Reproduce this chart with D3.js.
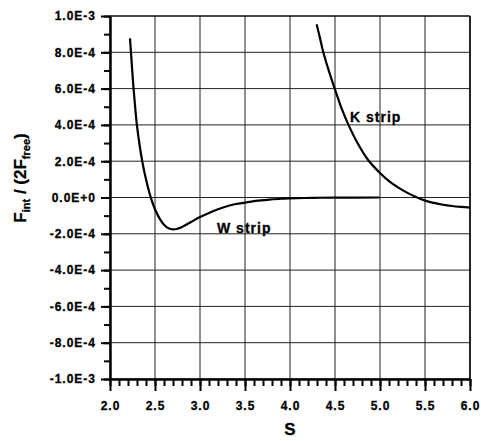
<!DOCTYPE html>
<html>
<head>
<meta charset="utf-8">
<script src="https://cdn.jsdelivr.net/npm/d3@7"></script>
<style>
body{margin:0;background:#fff;}
svg text{font-family:Arial,"Liberation Sans",Helvetica,sans-serif !important;font-weight:700 !important;fill:#000 !important;stroke:#000;stroke-width:0.3px;}
</style>
</head>
<body>
<svg id="chart" width="481" height="441"></svg>
<script>
// data (y in units of 1e-4)
var wS = [2.222,2.24,2.26,2.28,2.3,2.33,2.36,2.4,2.45,2.5,2.55,2.6,2.65,2.7,2.75,2.8,2.9,3.0,3.1,3.2,3.3,3.4,3.5,3.6,3.75,3.9,4.0,4.25,4.5,5.0];
var wF = [8.77,7.5,6.1,4.95,3.95,2.85,1.95,1.0,0.05,-0.65,-1.15,-1.5,-1.7,-1.76,-1.72,-1.62,-1.35,-1.08,-0.85,-0.65,-0.48,-0.36,-0.28,-0.2,-0.13,-0.07,-0.05,-0.02,-0.01,0];
var kS = [4.296,4.33,4.37,4.43,4.5,4.57,4.65,4.75,4.87,5.0,5.1,5.2,5.3,5.4,5.5,5.6,5.7,5.8,5.9,6.0];
var kF = [9.55,8.85,8.0,7.0,5.95,4.95,4.0,3.0,2.05,1.35,0.9,0.56,0.27,0.03,-0.17,-0.3,-0.4,-0.47,-0.52,-0.56];
var xTicks = [2.0,2.5,3.0,3.5,4.0,4.5,5.0,5.5,6.0];
var xTickLabels = ["2.0","2.5","3.0","3.5","4.0","4.5","5.0","5.5","6.0"];
var yTicks = [10,8,6,4,2,0,-2,-4,-6,-8,-10];
var yTickLabels = ["1.0E-3","8.0E-4","6.0E-4","4.0E-4","2.0E-4","0.0E+0","-2.0E-4","-4.0E-4","-6.0E-4","-8.0E-4","-1.0E-3"];

var L=110, R=470, T=16, B=379;
var svg = d3.select("#chart");
var x = d3.scaleLinear().domain([2,6]).range([L,R]);
var y = d3.scaleLinear().domain([-10,10]).range([B,T]);

// grid
svg.append("g").selectAll("line").data(xTicks).enter().append("line")
	.attr("x1",function(d){return x(d);}).attr("x2",function(d){return x(d);})
	.attr("y1",T).attr("y2",B).attr("stroke","#222").attr("stroke-width",1);
svg.append("g").selectAll("line").data(yTicks).enter().append("line")
	.attr("x1",L).attr("x2",R)
	.attr("y1",function(d){return y(d);}).attr("y2",function(d){return y(d);})
	.attr("stroke","#222").attr("stroke-width",1);

// frame top/right
svg.append("line").attr("x1",L).attr("x2",R).attr("y1",T).attr("y2",T).attr("stroke","#000").attr("stroke-width",1.2);
svg.append("line").attr("x1",R).attr("x2",R).attr("y1",T).attr("y2",B).attr("stroke","#000").attr("stroke-width",1.5);

// minor ticks
var xMinor = d3.range(20,61).map(function(v){return v/10;});
var yMinor = d3.range(-10,11);
svg.append("g").attr("transform","translate(0,"+B+")")
	.call(d3.axisBottom(x).tickValues(xMinor).tickSize(7).tickFormat("").tickSizeOuter(0))
	.call(function(g){g.select(".domain").remove();g.selectAll("line").attr("stroke-width",2);});
svg.append("g").attr("transform","translate("+L+",0)")
	.call(d3.axisLeft(y).tickValues(yMinor).tickSize(6).tickFormat("").tickSizeOuter(0))
	.call(function(g){g.select(".domain").remove();g.selectAll("line").attr("stroke-width",2);});

// major axes
var xAxis = svg.append("g").attr("transform","translate(0,"+B+")")
	.call(d3.axisBottom(x).tickValues(xTicks).tickSize(12).tickSizeOuter(0)
		.tickFormat(function(d,i){return xTickLabels[i];}));
xAxis.select(".domain").attr("stroke-width",2.5);
xAxis.selectAll("line").attr("stroke-width",2);
xAxis.selectAll("text").attr("font-size",12).attr("letter-spacing",1).attr("y",22).attr("dy","0.71em");

var yAxis = svg.append("g").attr("transform","translate("+L+",0)")
	.call(d3.axisLeft(y).tickValues(yTicks).tickSize(9).tickSizeOuter(0)
		.tickFormat(function(d,i){return yTickLabels[i];}));
yAxis.select(".domain").attr("stroke-width",2.5);
yAxis.selectAll("line").attr("stroke-width",2);
yAxis.selectAll("text").attr("font-size",12).attr("letter-spacing",1).attr("x",-14);

// curves
var line = d3.line().x(function(d){return x(d[0]);}).y(function(d){return y(d[1]);}).curve(d3.curveCatmullRom.alpha(0.5));
svg.append("path").datum(d3.zip(wS,wF)).attr("d",line)
	.attr("fill","none").attr("stroke","#000").attr("stroke-width",2.2);
svg.append("path").datum(d3.zip(kS,kF)).attr("d",line)
	.attr("fill","none").attr("stroke","#000").attr("stroke-width",2.2);

// labels
svg.append("text").attr("x",217).attr("y",233).attr("font-size",14).attr("letter-spacing",1).text("W strip");
svg.append("text").attr("x",350).attr("y",122).attr("font-size",14).attr("letter-spacing",1).text("K strip");
svg.append("text").attr("x",290).attr("y",435).attr("text-anchor","middle").attr("font-size",17).text("S");

var yt = svg.append("text").attr("transform","translate(26,178) rotate(-90)").attr("text-anchor","middle").attr("font-size",17);
yt.append("tspan").text("F");
yt.append("tspan").attr("font-size",11).attr("dy",4).text("int");
yt.append("tspan").attr("dy",-4).text(" / (2F");
yt.append("tspan").attr("font-size",11).attr("dy",4).text("free");
yt.append("tspan").attr("dy",-4).text(")");
</script>
</body>
</html>
